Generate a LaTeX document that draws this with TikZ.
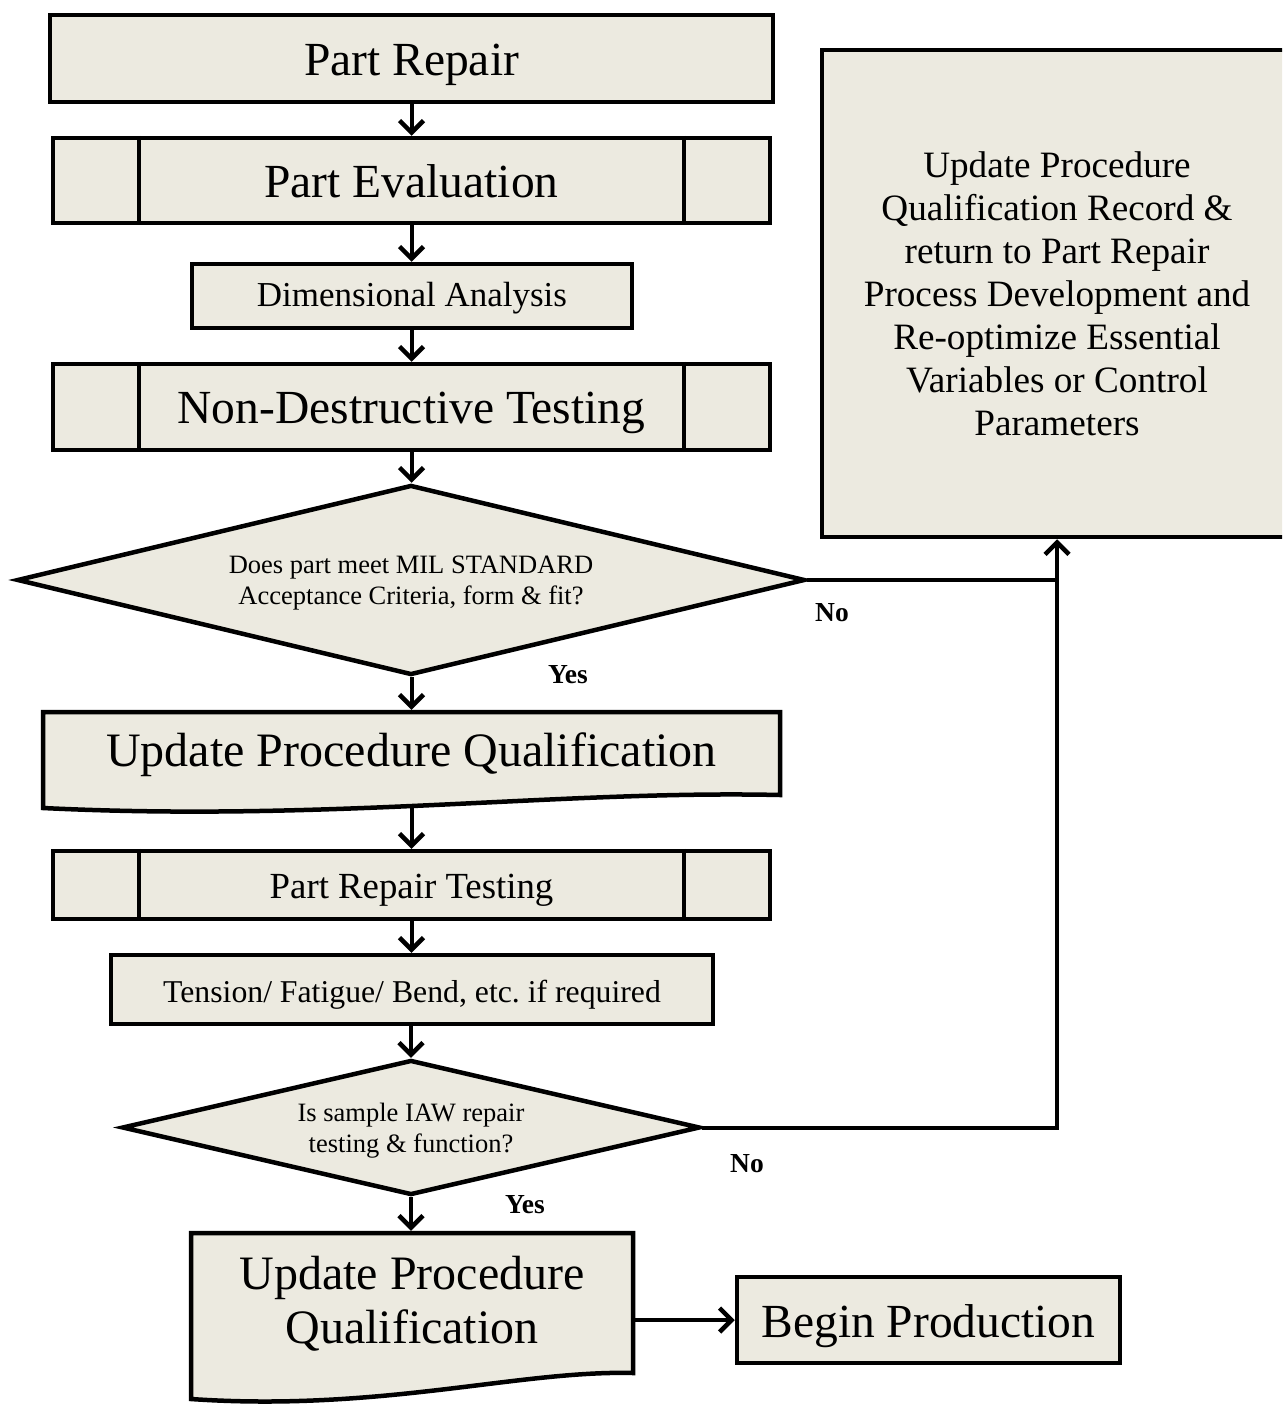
\documentclass[tikz,border=0pt]{standalone}
\usepackage{fontspec}
\setmainfont{Liberation Serif}
\usetikzlibrary{arrows.meta,shapes.geometric}
\definecolor{fillc}{RGB}{236,234,224}
\newcommand{\fs}[2]{\fontsize{#1}{#2}\selectfont}
\newcommand{\topstrut}{\rule{0pt}{0.9em}}
\newcommand{\botstrut}{\rule[-0.2em]{0pt}{0.2em}}
\frenchspacing
\begin{document}
\begin{tikzpicture}[x=1pt,y=-1pt,
  shp/.style={draw=black, fill=fillc, line width=4.5pt, inner sep=0pt},
  outline/.style={draw=black, fill=fillc, line width=4.5pt},
  rbox/.style={shp, rectangle, text depth=0pt},
  txtbox/.style={rectangle, inner sep=0pt, line width=4.5pt},
  conn/.style={line width=4pt},
  inner/.style={line width=4pt},
  arr/.style={conn, -{Straight Barb[length=12pt,width=24pt,line width=4.5pt]}},
  lbl/.style={font=\fs{27.5}{30}\bfseries, inner sep=0pt, anchor=base},
]
\useasboundingbox (0,0) rectangle (1282,1405);
\clip (0,0) rectangle (1282,1405);

% Part Repair
\node[rbox, text height=34.5pt, minimum width=723pt, minimum height=87pt, font=\fs{47.5}{52}] (pr) at (411.5,58.5) {Part Repair};

% Part Evaluation (predefined process)
\node[rbox, text height=33pt, minimum width=717pt, minimum height=85pt, font=\fs{47.5}{52}] (pe) at (411.5,180.5) {Part Evaluation};
\draw[inner] ([xshift=88pt]pe.north west) -- ([xshift=88pt]pe.south west);
\draw[inner] ([xshift=-88pt]pe.north east) -- ([xshift=-88pt]pe.south east);

% Dimensional Analysis
\node[rbox, text height=21pt, minimum width=440pt, minimum height=64pt, font=\fs{35}{40}] (da) at (412,296) {Dimensional Analysis};

% Non-Destructive Testing
\node[rbox, text height=33pt, minimum width=717pt, minimum height=86pt, font=\fs{47.5}{52}] (ndt) at (411.5,407) {Non-Destructive Testing};
\draw[inner] ([xshift=88pt]ndt.north west) -- ([xshift=88pt]ndt.south west);
\draw[inner] ([xshift=-88pt]ndt.north east) -- ([xshift=-88pt]ndt.south east);

% Decision 1
\node[shp, diamond, aspect=4.147, minimum width=788pt, minimum height=190pt, align=center, font=\fs{26.5}{31}] (d1) at (411,580)
  {\topstrut Does part meet MIL STANDARD\\\botstrut Acceptance Criteria, form \& fit?};

% Update Procedure Qualification (document)
\draw[outline] (43,712) -- (780,712) -- (780,795) .. controls (560,790) and (330,822) .. (43,808) -- cycle;
\node[txtbox, minimum width=737pt, minimum height=73.4pt, text height=34.6pt, text depth=0pt, font=\fs{48}{54}] (uq1) at (411.5,748.7) {Update Procedure Qualification};
\coordinate (uq1b) at (411.5,805);

% Part Repair Testing
\node[rbox, text height=26pt, minimum width=717pt, minimum height=68pt, font=\fs{36.8}{42}] (prt) at (411.5,885) {Part Repair Testing};
\draw[inner] ([xshift=88pt]prt.north west) -- ([xshift=88pt]prt.south west);
\draw[inner] ([xshift=-88pt]prt.north east) -- ([xshift=-88pt]prt.south east);

% Tension
\node[rbox, text height=25pt, minimum width=602pt, minimum height=69pt, font=\fs{31.75}{36}] (ten) at (412,989.5) {Tension/ Fatigue/ Bend, etc. if required};

% Decision 2
\node[shp, diamond, aspect=4.28, minimum width=578pt, minimum height=135pt, align=center, font=\fs{26.5}{31}] (d2) at (411,1127.5)
  {\topstrut Is sample IAW repair\\\botstrut testing \& function?};

% Update Procedure Qualification (document 2)
\draw[outline] (191,1233) -- (633,1233) -- (633,1373) .. controls (520,1370) and (380,1412) .. (191,1399) -- cycle;
\node[txtbox, minimum width=442pt, minimum height=132.4pt, align=center, font=\fs{48}{54}] (uq2) at (412,1299.2)
  {\topstrut Update Procedure\\\botstrut Qualification};

% Begin Production
\node[rbox, text height=34pt, minimum width=383pt, minimum height=86pt, font=\fs{47.5}{52}] (bp) at (928.5,1320) {Begin Production};

% Right box
\node[shp, rectangle, minimum width=470pt, minimum height=487pt, align=center, font=\fs{37.2}{43}] (upd) at (1057,293.5)
  {\topstrut Update Procedure\\Qualification Record \&\\return to Part Repair\\Process Development and\\Re-optimize Essential\\Variables or Control\\\botstrut Parameters};

% Connectors
\draw[arr] (pr.south) -- (pe.north);
\draw[arr] (pe.south) -- (da.north -| pe.south);
\draw[arr] (da.south -| pe.south) -- (ndt.north);
\draw[arr] (ndt.south) -- (d1.north -| ndt.south);
\draw[arr] (d1.south -| uq1.north) -- (uq1.north);
\draw[arr] (uq1b) -- (prt.north);
\draw[arr] (prt.south) -- (ten.north -| prt.south);
\draw[arr] (ten.south -| d2.north) -- (d2.north);
\draw[arr] (d2.south) -- (uq2.north -| d2.south);
\draw[arr] (bp.west -| uq2.east) -- (bp.west);
\draw[conn] (d1.east) -- (d1.east -| upd.south);
\draw[arr] (d2.east) -| (upd.south);

% Labels
\node[lbl] (no1) at (832,621) {No};
\node[lbl] (yes1) at (568,683) {Yes};
\node[lbl] (no2) at (747,1172) {No};
\node[lbl] (yes2) at (525,1213) {Yes};
\end{tikzpicture}
\end{document}
